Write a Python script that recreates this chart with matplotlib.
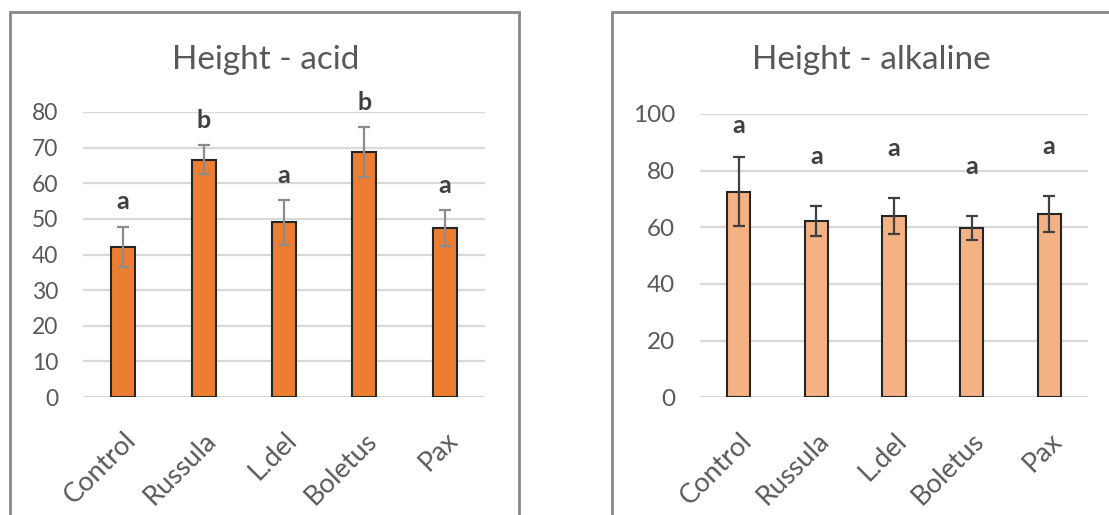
import matplotlib
matplotlib.use("Agg")
import matplotlib.pyplot as plt
from matplotlib.patches import Rectangle

plt.rcParams['font.family'] = ['Lato', 'DejaVu Sans']

# Treatments shared by both soils
categories = ["Control", "Russula", "L.del", "Boletus", "Pax"]

# Acid soil: mean height, error, significance group
acid_mean = [42.2, 66.6, 49.0, 68.7, 47.4]
acid_err = [5.6, 4.0, 6.3, 7.0, 5.1]
acid_group = ["a", "b", "a", "b", "a"]

# Alkaline soil
alk_mean = [72.5, 62.2, 64.1, 59.8, 64.7]
alk_err = [12.2, 5.4, 6.3, 4.3, 6.4]
alk_group = ["a", "a", "a", "a", "a"]

TEXT = "#595959"
GRID = "#d9d9d9"

fig = plt.figure(figsize=(11.09, 5.15), dpi=100)

# chart-area frames around each panel
W, H = 1109, 515
for x0, x1 in [(10, 519), (612, 1130)]:
    fig.patches.append(Rectangle((x0 / W, -0.1), (x1 - x0) / W, 1.1 - 12 / H,
                                 transform=fig.transFigure, fill=False,
                                 edgecolor="#888888", linewidth=2))


def panel(rect, title, title_x, means, errs, groups, ymax, step, color,
          errcolor, offset, cap, ysize):
    ax = fig.add_axes(rect)
    x = range(len(categories))
    ax.bar(x, means, width=0.3, color=color, edgecolor="#262626",
           linewidth=1.5, zorder=3)
    ax.errorbar(x, means, yerr=errs, fmt="none", ecolor=errcolor,
                elinewidth=1.6, capsize=4.5, capthick=1.6, zorder=4)
    for i, (m, e, g) in enumerate(zip(means, errs, groups)):
        ax.text(i, min(m + e + offset, cap), g, ha="center", va="center",
                fontsize=18, fontweight="bold", color="#404040",
                clip_on=False)
    ax.set_xlim(-0.5, len(categories) - 0.5)
    ax.set_ylim(0, ymax)
    ax.set_yticks(range(0, ymax + 1, step))
    ax.yaxis.grid(True, color=GRID, linewidth=1.6, zorder=0)
    ax.set_axisbelow(True)
    for s in ax.spines.values():
        s.set_visible(False)
    ax.tick_params(length=0, colors=TEXT)
    ax.tick_params(axis="y", pad=18, labelsize=ysize)
    ax.set_xticks(list(x))
    ax.set_xticklabels(categories, rotation=45, ha="right",
                       rotation_mode="anchor", fontsize=19.5, color=TEXT)
    ax.tick_params(axis="x", pad=22)
    fig.text(title_x / W, 1 - 60 / H, title, ha="center", va="center",
             fontsize=24, color=TEXT)
    return ax


panel([83 / W, 1 - 397 / H, 402 / W, 285 / H], "Height - acid", 266,
      acid_mean, acid_err, acid_group, 80, 10, "#ed7d31", "#8c8c8c", 7, 90,
      16.5)
panel([700 / W, 1 - 397.3 / H, 388 / W, 283.3 / H], "Height - alkaline", 871,
      alk_mean, alk_err, alk_group, 100, 20, "#f4b183", "#404040", 17.5, 96,
      17.5)

fig.savefig("out.png", dpi=100)
